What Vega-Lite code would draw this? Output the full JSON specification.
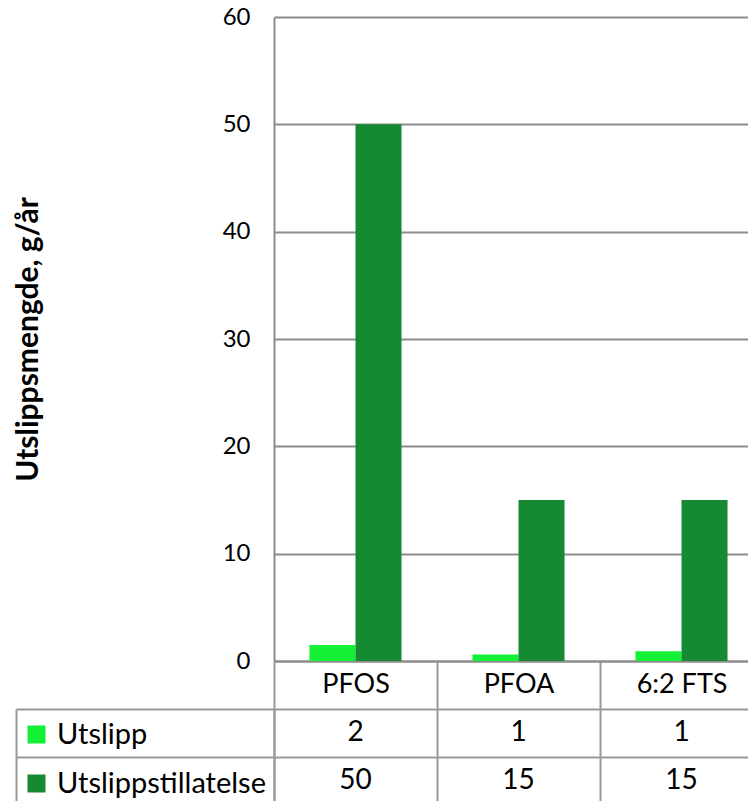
{
  "$schema": "https://vega.github.io/schema/vega-lite/v6.json",
  "padding": {"left": 13, "top": 5, "right": 0, "bottom": 0},
  "config": {"font": "Lato", "view": {"stroke": null}},
  "datasets": {
    "d": [
      {"stoff": "PFOS", "serie": "Utslipp", "verdi": 1.5},
      {"stoff": "PFOS", "serie": "Utslippstillatelse", "verdi": 50},
      {"stoff": "PFOA", "serie": "Utslipp", "verdi": 0.6},
      {"stoff": "PFOA", "serie": "Utslippstillatelse", "verdi": 15},
      {"stoff": "6:2 FTS", "serie": "Utslipp", "verdi": 0.9},
      {"stoff": "6:2 FTS", "serie": "Utslippstillatelse", "verdi": 15}
    ]
  },
  "bounds": "flush",
  "spacing": 48,
  "vconcat": [
    {
      "data": {"name": "d"},
      "width": 489,
      "height": 644,
      "mark": {"type": "bar"},
      "encoding": {
        "x": {
          "field": "stoff", "type": "nominal", "sort": ["PFOS", "PFOA", "6:2 FTS"],
          "scale": {"paddingInner": 0, "paddingOuter": 0},
          "axis": {"title": null, "labelAngle": 0, "labelFontSize": 27, "labelColor": "#000", "labelBaseline": "middle", "labelPadding": -25, "ticks": true, "tickBand": "extent", "tickSize": 48, "tickColor": "#999999", "tickWidth": 2, "domainColor": "#8c8c8c", "domainWidth": 2, "grid": false}
        },
        "xOffset": {"field": "serie", "type": "nominal", "scale": {"paddingOuter": 0.77, "paddingInner": 0}},
        "y": {
          "field": "verdi", "type": "quantitative", "scale": {"domain": [0, 60]},
          "axis": {"values": [0, 10, 20, 30, 40, 50, 60], "title": "Utslippsmengde, g/år", "titleFontSize": 30, "titleFontWeight": "bold", "titleColor": "#000", "titlePadding": 179, "minExtent": 52, "maxExtent": 52, "labelFontSize": 24, "labelColor": "#000", "labelPadding": 24, "ticks": false, "domainColor": "#8c8c8c", "domainWidth": 2, "gridColor": "#8c8c8c", "gridWidth": 2}
        },
        "color": {
          "field": "serie", "type": "nominal",
          "scale": {"domain": ["Utslipp", "Utslippstillatelse"], "range": ["#13F035", "#168A33"]},
          "legend": {"orient": "none", "legendX": -252, "legendY": 703, "title": null, "symbolType": "square", "symbolSize": 324, "symbolStrokeWidth": 0, "symbolOpacity": 1, "labelFontSize": 29, "labelColor": "#000", "labelOffset": 6, "labelLimit": 0, "rowPadding": 19, "padding": 0, "direction": "vertical"}
        }
      }
    },
    {
      "data": {"name": "d"},
      "width": 489,
      "height": 96,
      "layer": [
        {
          "mark": {"type": "text", "fontSize": 28, "color": "#000"},
          "encoding": {
            "x": {
              "field": "stoff", "type": "nominal", "sort": ["PFOS", "PFOA", "6:2 FTS"],
              "scale": {"paddingInner": 0, "paddingOuter": 0},
              "axis": {"orient": "top", "title": null, "labels": false, "ticks": false, "domain": false, "grid": true, "tickBand": "extent", "gridColor": "#999999", "gridWidth": 2}
            },
            "y": {
              "field": "serie", "type": "nominal", "sort": ["Utslipp", "Utslippstillatelse"],
              "scale": {"paddingInner": 0, "paddingOuter": 0},
              "axis": {"title": null, "labels": false, "ticks": true, "tickSize": 258, "tickBand": "extent", "tickColor": "#999999", "tickWidth": 2, "domainColor": "#999999", "domainWidth": 2, "grid": true, "gridColor": "#999999", "gridWidth": 2}
            },
            "text": {"field": "verdi", "type": "quantitative", "format": ".0f"}
          }
        },
        {
          "mark": {"type": "text", "text": ""},
          "encoding": {
            "y": {
              "field": "serie", "type": "nominal", "sort": ["Utslipp", "Utslippstillatelse"],
              "axis": {"orient": "left", "offset": 258, "title": null, "labels": false, "ticks": false, "grid": false, "domainColor": "#999999", "domainWidth": 2}
            }
          }
        }
      ],
      "resolve": {"axis": {"y": "independent"}}
    }
  ]
}
